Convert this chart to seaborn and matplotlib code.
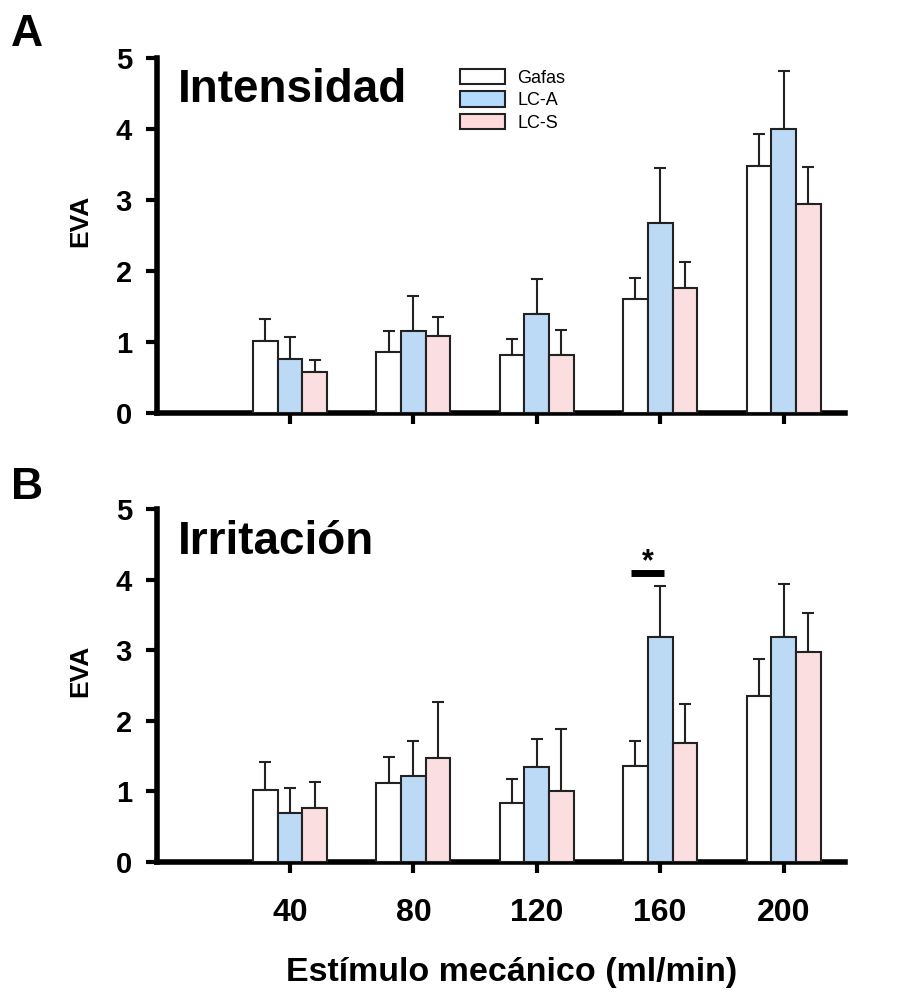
import matplotlib
matplotlib.use("Agg")
import matplotlib.pyplot as plt
import seaborn as sns
import pandas as pd
import numpy as np
from matplotlib.patches import Patch
from matplotlib import font_manager

sns.set_theme(style="white")
plt.rcParams['font.family'] = ['Liberation Sans', 'DejaVu Sans']
plt.rcParams['text.color'] = 'black'
plt.rcParams['axes.labelcolor'] = 'black'
plt.rcParams['xtick.color'] = 'black'
plt.rcParams['ytick.color'] = 'black'

names = [f.name for f in font_manager.fontManager.ttflist]
NARROW = 'Liberation Sans Narrow' if 'Liberation Sans Narrow' in names else 'Liberation Sans'

# ---- data ----
stimuli = ["40", "80", "120", "160", "200"]
groups = ["Gafas", "LC-A", "LC-S"]

int_gafas = [1.01, 0.86, 0.82, 1.61, 3.48]
int_lca = [0.76, 1.16, 1.39, 2.68, 4.00]
int_lcs = [0.58, 1.08, 0.82, 1.76, 2.94]
int_gafas_err = [0.32, 0.29, 0.22, 0.29, 0.45]
int_lca_err = [0.31, 0.49, 0.49, 0.77, 0.81]
int_lcs_err = [0.16, 0.27, 0.35, 0.36, 0.53]

irr_gafas = [1.02, 1.12, 0.84, 1.36, 2.35]
irr_lca = [0.69, 1.22, 1.34, 3.18, 3.19]
irr_lcs = [0.77, 1.47, 1.00, 1.69, 2.98]
irr_gafas_err = [0.39, 0.37, 0.34, 0.36, 0.52]
irr_lca_err = [0.36, 0.50, 0.40, 0.73, 0.75]
irr_lcs_err = [0.37, 0.79, 0.89, 0.55, 0.54]

colors = {"Gafas": "#ffffff", "LC-A": "#b3daff", "LC-S": "#ffd9dc"}


def make_df(g, a, s, ge, ae, se):
    rows = []
    for grp, vals, errs in zip(groups, [g, a, s], [ge, ae, se]):
        for st, v, e in zip(stimuli, vals, errs):
            rows.append({"stim": st, "group": grp, "value": v, "err": e})
    return pd.DataFrame(rows)


df_int = make_df(int_gafas, int_lca, int_lcs, int_gafas_err, int_lca_err, int_lcs_err)
df_irr = make_df(irr_gafas, irr_lca, irr_lcs, irr_gafas_err, irr_lca_err, irr_lcs_err)

fig = plt.figure(figsize=(9.02, 10.06), dpi=100)
axA = fig.add_axes([0.174, 0.5895, 0.763, 0.353])
axB = fig.add_axes([0.174, 0.1431, 0.763, 0.351])


def draw(ax, df):
    sns.barplot(data=df, x="stim", y="value", hue="group", order=stimuli,
                hue_order=groups, palette=colors, edgecolor="#222222",
                linewidth=1.5, width=0.6, gap=0, errorbar=None, ax=ax,
                legend=False, zorder=3)
    bars = [p for p in ax.patches]
    i = 0
    for grp in groups:
        sub = df[df.group == grp].set_index("stim").loc[stimuli]
        for st in stimuli:
            p = bars[i]
            i += 1
            xc = p.get_x() + p.get_width() / 2
            h = p.get_height()
            e = sub.loc[st, "err"]
            ax.errorbar([xc], [h], yerr=[[0], [e]], fmt="none", ecolor="#222222",
                        elinewidth=1.5, capsize=4, capthick=1.5, zorder=2)
    ax.set_xlim(-1.08, 4.5)
    ax.set_ylim(0, 5)
    ax.set_yticks([0, 1, 2, 3, 4, 5])
    for s in ["top", "right"]:
        ax.spines[s].set_visible(False)
    for s in ["left", "bottom"]:
        ax.spines[s].set_linewidth(4)
        ax.spines[s].set_color("black")
    ax.tick_params(axis="both", which="both", direction="out", length=8, width=3,
                   color="black", left=True, bottom=True, pad=10)
    ax.set_ylabel("EVA", fontsize=19, fontweight="bold")
    ax.yaxis.set_label_coords(-0.094, 0.54)
    ax.set_xlabel("")
    for lab in ax.get_yticklabels():
        lab.set_fontsize(21)
        lab.set_fontweight("bold")
    ax.set_facecolor("none")


draw(axA, df_int)
draw(axB, df_irr)

axA.set_xticklabels([])
axB.set_xticklabels(stimuli, fontsize=23, fontweight="bold", family=[NARROW, 'Liberation Sans'])
axB.tick_params(axis="x", pad=18)
axB.set_xlabel("Estímulo mecánico (ml/min)", fontsize=24.5, fontweight="bold", labelpad=22)
axB.xaxis.set_label_coords(0.516, -0.27)

axA.text(0.03, 0.97, "Intensidad", transform=axA.transAxes, fontsize=33,
         fontweight="bold", family=[NARROW, 'Liberation Sans'], va="top", ha="left")
axB.text(0.03, 0.97, "Irritación", transform=axB.transAxes, fontsize=33,
         fontweight="bold", family=[NARROW, 'Liberation Sans'], va="top", ha="left")

fig.text(0.012, 0.966, "A", fontsize=32, fontweight="bold", va="center", ha="left")
fig.text(0.012, 0.515, "B", fontsize=32, fontweight="bold", va="center", ha="left")

# significance marker on Irritación 160
axB.plot([2.765, 3.03], [4.09, 4.09], color="black", lw=5, solid_capstyle="butt")
axB.text(2.9, 4.03, "*", fontsize=22, fontweight="bold", ha="center", va="bottom")

handles = [Patch(facecolor=colors[g], edgecolor="#222222", linewidth=1.5, label=g) for g in groups]
axA.legend(handles=handles, loc="upper left", bbox_to_anchor=(0.424, 1.0), frameon=False,
           fontsize=13, handlelength=2.5, handleheight=0.95, labelspacing=0.25,
           handletextpad=0.7, borderaxespad=0.2)

fig.savefig("out.png", dpi=100)
